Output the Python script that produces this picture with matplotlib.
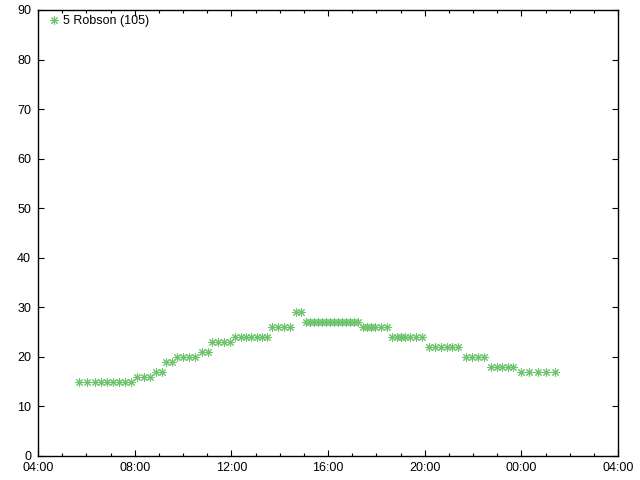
import matplotlib
matplotlib.use("Agg")
import matplotlib.pyplot as plt
import matplotlib.dates as mdates
from datetime import datetime, timedelta

plt.rcParams['font.family'] = ['Liberation Sans', 'DejaVu Sans']

label = "5 Robson (105)"
times = [
    "05:42", "06:02", "06:22", "06:37", "06:52", "07:07", "07:22", "07:37", "07:52",
    "08:07", "08:22", "08:37",
    "08:52", "09:07",
    "09:18", "09:33",
    "09:46", "10:01", "10:16", "10:31",
    "10:46", "11:01",
    "11:13", "11:28", "11:43", "11:57",
    "12:09", "12:23", "12:36", "12:50", "13:04", "13:17", "13:29",
    "13:41", "13:56", "14:11", "14:26",
    "14:41", "14:53",
    "15:05", "15:15", "15:25", "15:35", "15:45", "15:55", "16:05", "16:15",
    "16:25", "16:35", "16:45", "16:55", "17:05", "17:15",
    "17:27", "17:37", "17:47", "17:57", "18:12", "18:27",
    "18:40", "18:51", "19:02", "19:12", "19:24", "19:38", "19:53",
    "20:12", "20:26", "20:41", "20:55", "21:09", "21:23",
    "21:43", "21:58", "22:12", "22:27",
    "22:44", "22:59", "23:13", "23:26", "23:40",
    "23:58", "00:20", "00:41", "01:02", "01:24",
]
values = [
    15, 15, 15, 15, 15, 15, 15, 15, 15,
    16, 16, 16,
    17, 17,
    19, 19,
    20, 20, 20, 20,
    21, 21,
    23, 23, 23, 23,
    24, 24, 24, 24, 24, 24, 24,
    26, 26, 26, 26,
    29, 29,
    27, 27, 27, 27, 27, 27, 27, 27, 27, 27, 27, 27, 27, 27,
    26, 26, 26, 26, 26, 26,
    24, 24, 24, 24, 24, 24, 24,
    22, 22, 22, 22, 22, 22,
    20, 20, 20, 20,
    18, 18, 18, 18, 18,
    17, 17, 17, 17, 17,
]

base = datetime(2024, 1, 1)
xs = []
for t in times:
    h, m = map(int, t.split(":"))
    d = base + timedelta(hours=h, minutes=m)
    if h < 4:
        d += timedelta(days=1)
    xs.append(d)

fig = plt.figure(figsize=(6.4, 4.8), dpi=100)
ax = fig.add_axes([38/640, 24/480, 580/640, 446/480])
ax.plot(xs, values, linestyle='none', marker=(8, 2, 0), markersize=6,
        markeredgewidth=0.75, color='#6cc46c', label=label)

ax.set_xlim(base + timedelta(hours=4), base + timedelta(hours=28))
ax.set_ylim(0, 90)
ax.set_yticks(range(0, 91, 10))
ax.xaxis.set_major_locator(mdates.HourLocator(byhour=[0, 4, 8, 12, 16, 20]))
ax.xaxis.set_minor_locator(mdates.HourLocator())
ax.xaxis.set_major_formatter(mdates.DateFormatter("%H:%M"))

ax.tick_params(axis='both', which='both', direction='in', top=True, right=True,
               labelsize=9, colors='black')
ax.tick_params(axis='both', which='major', length=4.5, width=0.8)
ax.tick_params(axis='x', which='major', pad=4.5)
ax.tick_params(axis='y', which='major', pad=5)
ax.tick_params(axis='x', which='minor', length=2.5, width=0.8)
for s in ax.spines.values():
    s.set_linewidth(1.0)

ax.legend(loc='upper left', bbox_to_anchor=(0.019, 0.988), frameon=False,
          fontsize=9, handlelength=0.8, handletextpad=0.3, borderaxespad=0,
          borderpad=0, markerscale=1.0)

fig.savefig("out.png", dpi=100)
